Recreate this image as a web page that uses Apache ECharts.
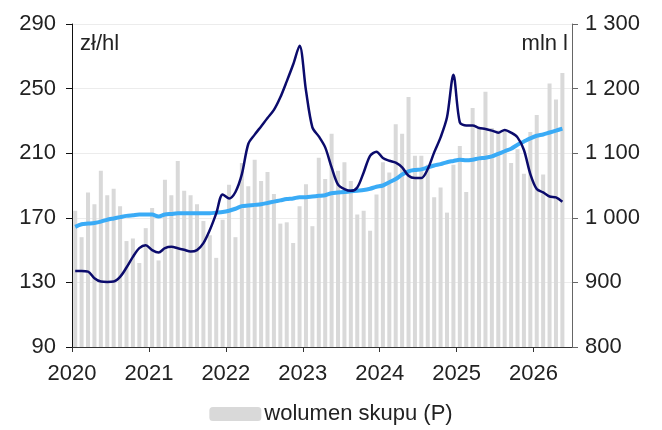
<!DOCTYPE html>
<html>
<head>
<meta charset="utf-8">
<script src="https://cdn.jsdelivr.net/npm/echarts@6/dist/echarts.min.js"></script>
<style>
  html, body { margin: 0; padding: 0; background: #fff; }
  #chart { width: 662px; height: 430px; }
</style>
</head>
<body>
<div id="chart"></div>
<script>
  // miesiace od 01.2020, os X liczona w miesiacach
  var startYear = 2020;
  var monthsOnAxis = 78;

  // wolumen skupu, mln l (P)
  var volume = [
    1011, 970, 1039, 1021, 1073, 1035, 1045, 1018, 964, 968, 930, 984,
    1015, 934, 1059, 1035, 1088, 1042, 1035, 1021, 995, 973, 938, 997,
    1051, 970, 1085, 1049, 1090, 1057, 1071, 1037, 991, 993, 961, 1018,
    1052, 987, 1093, 1060, 1130, 1073, 1086, 1057, 1005, 1011, 980, 1036,
    1086, 1070, 1145, 1130, 1187, 1096, 1096, 1082, 1032, 1047, 1008, 1082,
    1111, 1040, 1170, 1139, 1195, 1139, 1135, 1134, 1085, 1106, 1068, 1133,
    1159, 1067, 1208, 1183, 1224
  ];

  // cena skupu, zl/hl (L)
  var price = [
    137, 137, 136.7, 132.6, 130.5, 130.3, 130.5, 133.4, 139.2, 145.8, 151.2, 153,
    150, 148.5, 151.2, 152, 151.2, 150.2, 149.1, 150, 154.3, 162.4, 172.7, 184.5,
    182, 186, 197, 215.7, 221.5, 226.6, 231.8, 236.8, 244.6, 254.5, 264.9, 276.5,
    248.8, 226, 220.4, 213.6, 201.2, 190.5, 187.8, 186.7, 188.8, 198.1, 208.4, 210.9,
    207, 205.3, 204.1, 201.2, 196, 194.6, 194.6, 200.2, 210.5, 219.8, 232.2, 258.5,
    229.1, 227.1, 227.1, 225.6, 225, 224, 222.7, 224.4, 222.7, 219.8, 212, 197.1,
    187.8, 185.7, 183.2, 182.6, 179.9
  ];

  // trend wolumenu (P)
  var trend = [
    986, 990, 991, 992, 994, 997, 999, 1001, 1003, 1004, 1005, 1005,
    1005, 1002, 1005, 1006, 1007, 1007, 1007, 1007, 1007, 1007, 1008, 1009,
    1011, 1014, 1018, 1019, 1020, 1021, 1023, 1025, 1027, 1029, 1030, 1032,
    1032, 1033, 1034, 1035, 1038, 1039, 1040, 1041, 1042, 1043, 1045, 1048,
    1050, 1055, 1060, 1067, 1072, 1074, 1075, 1078, 1081, 1083, 1086, 1088,
    1090, 1089, 1090, 1092, 1093, 1095, 1099, 1103, 1107, 1113, 1118, 1123,
    1127, 1129, 1132, 1135, 1138
  ];

  function toPoints(arr) {
    return arr.map(function (v, i) { return [i + 0.5, v]; });
  }

  var font = 'Liberation Sans, Arial, sans-serif';
  var fs = 22;
  var myChart = echarts.init(document.getElementById('chart'));

  myChart.setOption({
    animation: false,
    textStyle: { fontFamily: font },
    grid: { left: 72, right: 90, top: 24, bottom: 83 },
    legend: {
      bottom: 0,
      left: 'center',
      data: ['wolumen skupu (P)'],
      itemWidth: 52,
      itemHeight: 14,
      itemGap: 6,
      textStyle: { fontSize: fs, color: '#222', fontFamily: font, padding: [0, 0, 0, -2] }
    },
    graphic: [
      { type: 'text', left: 80, top: 33, style: { text: 'zł/hl', font: fs + 'px ' + font, fill: '#222' } },
      { type: 'text', right: 94, top: 33, style: { text: 'mln l', font: fs + 'px ' + font, fill: '#222' } }
    ],
    xAxis: {
      type: 'value',
      min: 0,
      max: monthsOnAxis,
      interval: 12,
      axisLine: { lineStyle: { color: '#333' } },
      axisTick: { show: true, length: 5, lineStyle: { color: '#333' } },
      splitLine: { show: false },
      axisLabel: {
        fontSize: fs, color: '#222', margin: 16,
        showMaxLabel: false,
        formatter: function (v) { return v % 12 === 0 ? String(startYear + v / 12) : ''; }
      }
    },
    yAxis: [
      {
        type: 'value', min: 90, max: 290, interval: 40,
        axisLine: { show: true, lineStyle: { color: '#111' } },
        axisTick: { show: true, length: 6, lineStyle: { color: '#111' } },
        splitLine: { lineStyle: { color: '#ececec' } },
        axisLabel: { fontSize: fs, color: '#222', margin: 16 }
      },
      {
        type: 'value', min: 800, max: 1300, interval: 100,
        axisLine: { show: true, lineStyle: { color: '#666' } },
        axisTick: { show: true, length: 6, lineStyle: { color: '#666' } },
        splitLine: { show: false },
        axisLabel: {
          fontSize: fs, color: '#222', margin: 13,
          formatter: function (v) { return String(v).replace(/\B(?=(\d{3})+(?!\d))/g, ' '); }
        }
      }
    ],
    series: [
      {
        name: 'wolumen skupu (P)',
        type: 'bar',
        yAxisIndex: 1,
        barWidth: 4,
        itemStyle: { color: '#d9d9d9' },
        data: toPoints(volume),
        z: 1
      },
      {
        name: 'trend',
        type: 'line',
        yAxisIndex: 1,
        smooth: 0.3,
        symbol: 'none',
        lineStyle: { color: '#3aabf6', width: 4 },
        data: toPoints(trend),
        z: 3
      },
      {
        name: 'cena',
        type: 'line',
        yAxisIndex: 0,
        smooth: 0.3,
        symbol: 'none',
        lineStyle: { color: '#0b0b6c', width: 2.5 },
        data: toPoints(price),
        z: 4
      }
    ]
  });
</script>
</body>
</html>
